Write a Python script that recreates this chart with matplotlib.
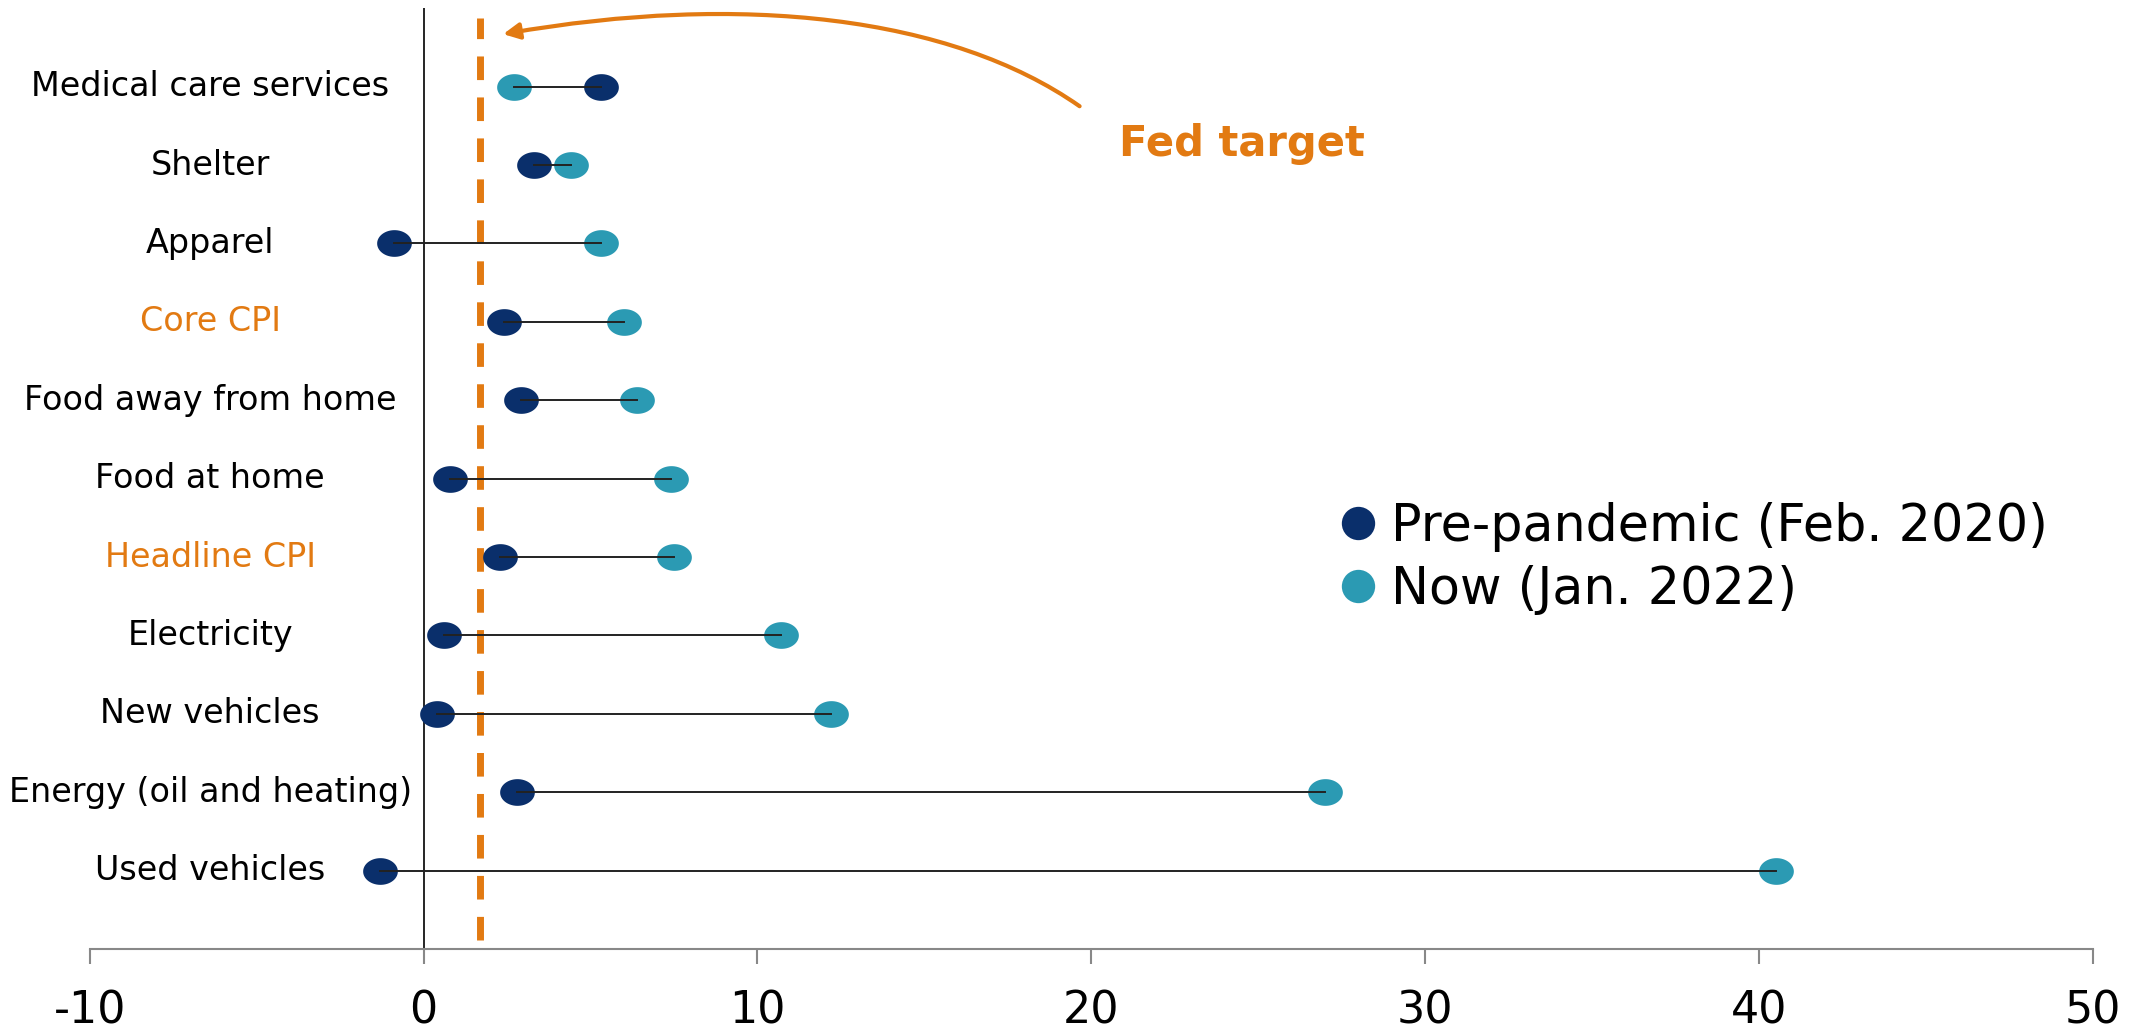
import matplotlib
matplotlib.use("Agg")
import numpy as np
import matplotlib.pyplot as plt
from matplotlib.lines import Line2D
from matplotlib.path import Path
from matplotlib.patches import FancyArrowPatch

# categories, bottom row first
categories = ["Used vehicles", "Energy (oil and heating)", "New vehicles", "Electricity",
              "Headline CPI", "Food at home", "Food away from home", "Core CPI",
              "Apparel", "Shelter", "Medical care services"]
pre_pandemic = [-1.3, 2.8, 0.4, 0.6, 2.3, 0.8, 2.9, 2.4, -0.9, 3.3, 5.3]
now = [40.5, 27.0, 12.2, 10.7, 7.5, 7.4, 6.4, 6.0, 5.3, 4.4, 2.7]
highlight = ["Headline CPI", "Core CPI"]
fed_target = 1.7
x_ticks = [-10, 0, 10, 20, 30, 40, 50]

navy = "#0a2f6b"
teal = "#2b9ab3"
orange = "#e27a12"

plt.rcParams["font.family"] = ["DejaVu Sans"]

# slightly flattened dot marker
theta = np.linspace(0, 2 * np.pi, 60)
oval = Path(np.column_stack([1.3 * np.cos(theta), np.sin(theta)]), closed=True)

fig = plt.figure(figsize=(21.31, 10.30), dpi=100)
ax = fig.add_axes([0.0422, 0.0786, 0.9398, 0.9134])

ypos = list(range(len(categories)))

ax.axvline(0, color="black", lw=1.2, zorder=1)
ax.plot([fed_target, fed_target], [-0.88, 10.87], color=orange, lw=5,
        dashes=(3.4, 2.5), zorder=2)

ax.plot(pre_pandemic, ypos, ls="", marker=oval, markersize=25, color=navy,
        mew=0, zorder=3)
ax.plot(now, ypos, ls="", marker=oval, markersize=25, color=teal,
        mew=0, zorder=3)
for y, a, b in zip(ypos, pre_pandemic, now):
    ax.plot([a, b], [y, y], color="#222222", lw=1.4, zorder=4)

for y, name in zip(ypos, categories):
    ax.text(-6.4, y, name, ha="center", va="center", fontsize=24,
            color=orange if name in highlight else "black")

ax.set_xlim(-10, 50)
ax.set_ylim(-1, 11)
ax.set_xticks(x_ticks)
ax.set_xticklabels([str(v) for v in x_ticks], fontsize=32)
ax.set_yticks([])
for side in ["top", "right", "left"]:
    ax.spines[side].set_visible(False)
ax.spines["bottom"].set_color("#888888")
ax.spines["bottom"].set_linewidth(1.5)
ax.tick_params(axis="x", length=11, width=1.5, color="#888888", pad=18)

# curved arrow pointing at the target line
arrow_path = Path([(19.65, 9.75), (15.8, 10.9), (9.5, 11.2), (2.38, 10.67)],
                  [Path.MOVETO, Path.CURVE4, Path.CURVE4, Path.CURVE4])
ax.add_patch(FancyArrowPatch(path=arrow_path, arrowstyle="-|>", color=orange,
                             lw=3, mutation_scale=24, transform=ax.transData,
                             clip_on=False, zorder=5))
ax.text(24.5, 9.27, "Fed target", ha="center", va="center", fontsize=30,
        fontweight="bold", color=orange)

handles = [Line2D([], [], marker="o", ls="", color=navy, markersize=24, mew=0),
           Line2D([], [], marker="o", ls="", color=teal, markersize=24, mew=0)]
fig.legend(handles, ["Pre-pandemic (Feb. 2020)", "Now (Jan. 2022)"],
           loc="center left", bbox_to_anchor=(0.617, 0.458), frameon=False,
           fontsize=36.5, handlelength=0.7, handletextpad=0.3, borderpad=0,
           labelspacing=0.25)

fig.savefig("out.png", dpi=100)
